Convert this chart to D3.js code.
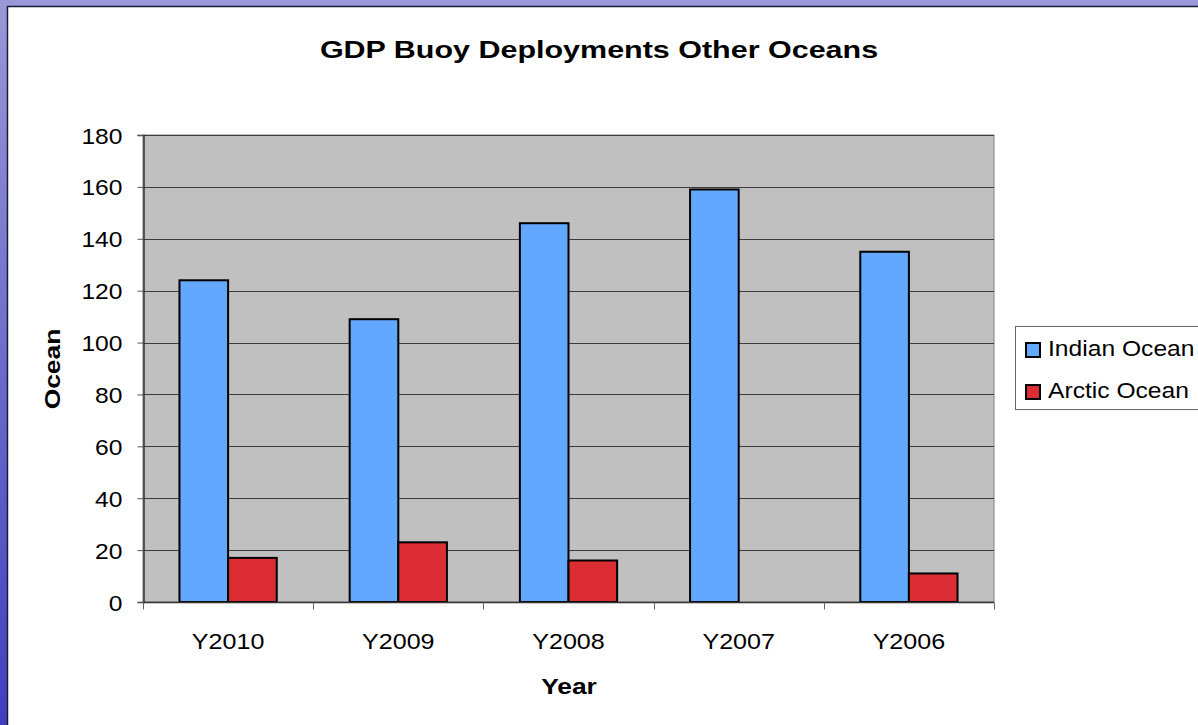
<!DOCTYPE html>
<html>
<head>
<meta charset="utf-8">
<script src="https://cdn.jsdelivr.net/npm/d3@7/dist/d3.min.js"></script>
<style>
  html, body { margin: 0; padding: 0; background: #fff; }
  svg { display: block; }
  text { font-family: "Liberation Sans", Arial, sans-serif; fill: #000; }
</style>
</head>
<body>
<svg id="chart" width="1198" height="725"></svg>
<script>
// Chart data
const years = ["Y2010", "Y2009", "Y2008", "Y2007", "Y2006"];
const seriesNames = ["Indian Ocean", "Arctic Ocean"];
const indianOcean = [124, 109, 146, 159, 135];
const arcticOcean = [17, 23, 16, 0, 11];
const seriesColors = ["#63a8ff", "#dd2d34"];
const yTicks = [0, 20, 40, 60, 80, 100, 120, 140, 160, 180];

const seriesValues = [indianOcean, arcticOcean];
const W = 1198, H = 725;
const svg = d3.select("#chart");

// Widen glyphs horizontally around their anchor point
function widen(sel, sx) {
  sel.each(function () {
    const t = d3.select(this);
    const tx = +t.attr("x") || 0, ty = +t.attr("y") || 0;
    const prev = t.attr("transform") || "";
    t.attr("x", 0).attr("y", 0)
      .attr("transform", `${prev} translate(${tx},${ty}) scale(${sx},1)`);
  });
}

// Slide-style backdrop behind the chart sheet
const defs = svg.append("defs");
const bg = defs.append("linearGradient").attr("id", "bg").attr("x1", 0).attr("y1", 0).attr("x2", 0).attr("y2", 1);
bg.append("stop").attr("offset", "0%").attr("stop-color", "#9a98d6");
bg.append("stop").attr("offset", "100%").attr("stop-color", "#3f3fbe");
svg.append("rect").attr("width", W).attr("height", H).attr("fill", "url(#bg)");

// White chart sheet
svg.append("rect").attr("x", 8).attr("y", 6).attr("width", W - 8).attr("height", H - 6)
  .attr("fill", "#fff");
svg.append("path").attr("d", `M7.5,${H} V6.5 H${W}`).attr("fill", "none")
  .attr("stroke", "#1a1a3a").attr("stroke-width", 1.5);

// Plot area
const plot = { left: 143, right: 994, top: 135, bottom: 602 };
const x = d3.scaleBand().domain(years).range([plot.left, plot.right]).paddingInner(0).paddingOuter(0);
const y = d3.scaleLinear().domain([0, 180]).range([plot.bottom, plot.top]);

svg.append("rect").attr("x", plot.left).attr("y", plot.top)
  .attr("width", plot.right - plot.left).attr("height", plot.bottom - plot.top)
  .attr("fill", "#c0c0c0").attr("stroke", "#808080").attr("stroke-width", 1);

// Horizontal gridlines
svg.append("g").selectAll("line").data(yTicks.filter(t => t > 0)).join("line")
  .attr("x1", plot.left).attr("x2", plot.right)
  .attr("y1", d => Math.round(y(d)) + 0.5).attr("y2", d => Math.round(y(d)) + 0.5)
  .attr("stroke", "#3c3c3c").attr("stroke-width", 1);

// Bars: Excel-style gap width of 150%
const barW = x.bandwidth() / 3.5;
const groups = svg.append("g").selectAll("g").data(years).join("g")
  .attr("transform", d => `translate(${x(d) + barW * 0.75},0)`);
groups.selectAll("rect").data((d, i) => seriesValues.map((s, k) => ({ k, v: s[i] })))
  .join("rect")
  .filter(d => d.v > 0)
  .attr("x", d => d.k * barW)
  .attr("y", d => y(d.v))
  .attr("width", barW)
  .attr("height", d => y(0) - y(d.v))
  .attr("fill", d => seriesColors[d.k])
  .attr("stroke", "#000").attr("stroke-width", 2);

// Y axis
const yAxis = d3.axisLeft(y).tickValues(yTicks).tickSize(6).tickPadding(15);
const gy = svg.append("g").attr("transform", `translate(${plot.left + 0.5},0)`).call(yAxis);
gy.select(".domain").attr("stroke", "#333").attr("stroke-width", 1.5);
gy.selectAll(".tick line").attr("stroke", "#555");
gy.selectAll(".tick text").style("font-size", "22px").attr("font-family", null)
  .attr("dy", null).attr("y", 8).call(widen, 1.12);

// X axis: ticks on category boundaries
const gx = svg.append("g").attr("transform", `translate(0,${plot.bottom + 0.5})`);
gx.append("line").attr("x1", plot.left).attr("x2", plot.right).attr("stroke", "#333").attr("stroke-width", 1.5);
const bounds = years.map(d => x(d)).concat([plot.right]);
gx.selectAll("line.tk").data(bounds).join("line").attr("class", "tk")
  .attr("x1", d => Math.round(d) + 0.5).attr("x2", d => Math.round(d) + 0.5)
  .attr("y1", 0).attr("y2", 7).attr("stroke", "#666");
gx.selectAll("text").data(years).join("text")
  .attr("x", d => x(d) + x.bandwidth() / 2).attr("y", 46)
  .attr("text-anchor", "middle").style("font-size", "22px").text(d => d)
  .call(widen, 1.14);

// Titles
svg.append("text").attr("x", 599).attr("y", 58).attr("text-anchor", "middle")
  .style("font-size", "24px").style("font-weight", "bold").text("GDP Buoy Deployments Other Oceans")
  .call(widen, 1.27);
svg.append("text").attr("x", 569).attr("y", 694).attr("text-anchor", "middle")
  .style("font-size", "22px").style("font-weight", "bold").text("Year")
  .call(widen, 1.2);
svg.append("text").attr("transform", "translate(60,369) rotate(-90)").attr("text-anchor", "middle")
  .style("font-size", "22px").style("font-weight", "bold").text("Ocean")
  .call(widen, 1.2);

// Legend
const lg = svg.append("g");
lg.append("rect").attr("x", 1015.5).attr("y", 326.5).attr("width", 200).attr("height", 83)
  .attr("fill", "#fff").attr("stroke", "#666").attr("stroke-width", 1);
const items = lg.selectAll("g").data(seriesNames).join("g")
  .attr("transform", (d, i) => `translate(0,${349 + i * 42})`);
items.append("rect").attr("x", 1026).attr("y", -6).attr("width", 14).attr("height", 14)
  .attr("fill", (d, i) => seriesColors[i]).attr("stroke", "#000").attr("stroke-width", 2);
items.append("text").attr("x", 1048).attr("y", 7).style("font-size", "22px").text(d => d)
  .call(widen, 1.12);
</script>
</body>
</html>
